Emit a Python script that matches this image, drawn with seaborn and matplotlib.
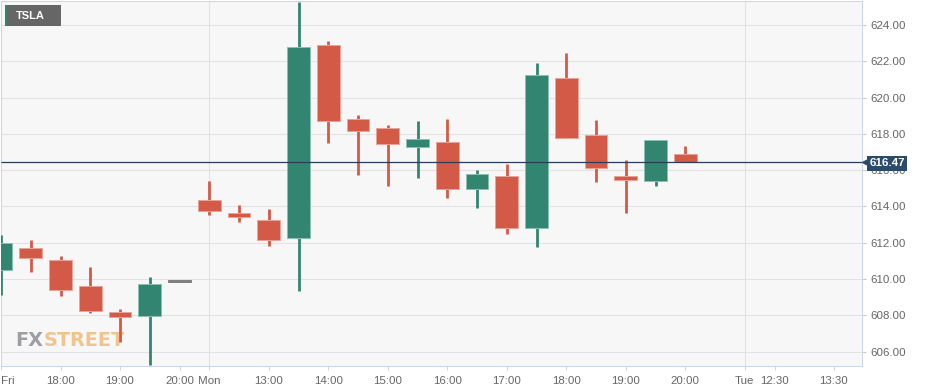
import numpy as np
import pandas as pd
import matplotlib
matplotlib.use("Agg")
import matplotlib.pyplot as plt
import seaborn as sns
from matplotlib.patches import Rectangle

# ---------------- data ----------------
axis_slots = ["Fri 17:00", "Fri 17:30", "Fri 18:00", "Fri 18:30", "Fri 19:00", "Fri 19:30",
              "Fri 20:00", "Mon 12:00", "Mon 12:30", "Mon 13:00", "Mon 13:30", "Mon 14:00",
              "Mon 14:30", "Mon 15:00", "Mon 15:30", "Mon 16:00", "Mon 16:30", "Mon 17:00",
              "Mon 17:30", "Mon 18:00", "Mon 18:30", "Mon 19:00", "Mon 19:30", "Mon 20:00",
              "Mon 20:30", "Tue 12:00", "Tue 12:30", "Tue 13:00", "Tue 13:30"]

candle_times = ["Fri 17:00", "Fri 17:30", "Fri 18:00", "Fri 18:30", "Fri 19:00", "Fri 19:30",
                "Fri 20:00", "Mon 12:00", "Mon 12:30", "Mon 13:00", "Mon 13:30", "Mon 14:00",
                "Mon 14:30", "Mon 15:00", "Mon 15:30", "Mon 16:00", "Mon 16:30", "Mon 17:00",
                "Mon 17:30", "Mon 18:00", "Mon 18:30", "Mon 19:00", "Mon 19:30", "Mon 20:00"]
opens = [610.52, 611.70, 611.03, 609.60, 608.17, 607.97, 609.86, 614.34, 613.66, 613.26, 612.25, 622.90,
         618.82, 618.33, 617.30, 617.54, 614.95, 615.66, 612.80, 621.06, 617.92, 615.66, 615.39, 616.91]
highs = [612.43, 612.14, 611.27, 610.65, 608.34, 610.10, 609.86, 615.39, 614.07, 613.84, 625.25, 623.10,
         619.02, 618.47, 618.69, 618.80, 615.99, 616.32, 621.89, 622.44, 618.75, 616.56, 617.65, 617.33]
lows = [609.12, 610.41, 609.09, 608.15, 606.52, 605.25, 609.86, 613.51, 613.13, 611.81, 609.33, 617.52,
        615.72, 615.11, 615.55, 614.45, 613.90, 612.48, 611.75, 617.77, 615.33, 613.62, 615.13, 616.47]
closes = [611.99, 611.18, 609.40, 608.24, 607.93, 609.71, 609.86, 613.77, 613.42, 612.15, 622.77, 618.69,
          618.16, 617.46, 617.70, 614.95, 615.79, 612.82, 621.23, 617.77, 616.12, 615.44, 617.65, 616.47]

tick_slots = ["Fri 17:00", "Fri 18:00", "Fri 19:00", "Fri 20:00", "Mon 12:00", "Mon 13:00", "Mon 14:00",
              "Mon 15:00", "Mon 16:00", "Mon 17:00", "Mon 18:00", "Mon 19:00", "Mon 20:00",
              "Tue 12:00", "Tue 12:30", "Tue 13:30"]
tick_labels = ["Fri", "18:00", "19:00", "20:00", "Mon", "13:00", "14:00", "15:00", "16:00",
               "17:00", "18:00", "19:00", "20:00", "Tue", "12:30", "13:30"]
day_starts = ["Mon 12:00", "Tue 12:00"]
price_ticks = [606, 608, 610, 612, 614, 616, 618, 620, 622, 624]
last_price = 616.47
symbol = "TSLA"
brand_parts = ["FX", "STREET"]

# ---------------- style ----------------
sns.set_theme(style="white")
plt.rcParams["font.family"] = ["Liberation Sans", "DejaVu Sans"]
plt.rcParams["lines.solid_capstyle"] = "butt"

GREEN = "#318571"
RED = "#d45a48"
GREY = "#7f7f7f"
palette = {"up": GREEN, "down": RED, "flat": GREY}
edge_palette = {"up": "#8cc0b2", "down": "#eba396", "flat": GREY}

slot_index = {s: i for i, s in enumerate(axis_slots)}
df = pd.DataFrame({"time": candle_times, "open": opens, "high": highs,
                   "low": lows, "close": closes})
df["pos"] = df["time"].map(slot_index)
df["dir"] = np.where(df["close"] > df["open"], "up",
                     np.where(df["close"] < df["open"], "down", "flat"))

fig = plt.figure(figsize=(9.27, 3.92), dpi=100)
fig.patch.set_facecolor("white")
ax = fig.add_axes([1 / 927, 26 / 392, 861 / 927, 365 / 392])
ax.set_facecolor("#f7f7f7")

# wicks (seaborn line per candle)
wick = pd.concat([
    df[["time", "pos", "dir"]].assign(price=df["low"]),
    df[["time", "pos", "dir"]].assign(price=df["high"]),
])
sns.lineplot(data=wick, x="pos", y="price", hue="dir", units="time", estimator=None,
             palette=palette, linewidth=2.0, legend=False, sort=False, ax=ax, zorder=3)

# bodies
body_bottom = np.minimum(df["open"], df["close"])
body_height = np.maximum(np.abs(df["close"] - df["open"]), 0.08)
ax.bar(df["pos"], body_height, bottom=body_bottom, width=0.77,
       color=[palette[d] for d in df["dir"]],
       edgecolor=[edge_palette[d] for d in df["dir"]],
       linewidth=0.7, zorder=4)

# axes limits / ticks
ax.set_xlim(0, 28.94)
ax.set_ylim(605.21, 625.32)
ax.set_xlabel("")
ax.set_ylabel("")

ax.set_yticks(price_ticks)
ax.set_yticklabels([f"{v:.2f}" for v in price_ticks])
ax.yaxis.tick_right()
ax.tick_params(axis="y", which="both", right=True, left=False, length=3, width=0.75,
               color="#c8c8c8", labelcolor="#666666", labelsize=8.25, pad=3)

ax.set_xticks([slot_index[s] for s in tick_slots])
ax.set_xticklabels(tick_labels)
ax.tick_params(axis="x", which="both", bottom=True, length=3, width=0.75,
               color="#ccd6eb", labelcolor="#666666", labelsize=8.25, pad=4)
ax.get_xticklabels()[0].set_horizontalalignment("left")

ax.grid(axis="y", color="#e2e2e2", linewidth=0.75)
ax.grid(axis="x", visible=False)
ax.set_axisbelow(True)
for s in day_starts:
    ax.axvline(slot_index[s], color="#e2e2e2", linewidth=0.75, zorder=0.5)

for sp in ax.spines.values():
    sp.set_visible(True)
    sp.set_color("#ccd6eb")
    sp.set_linewidth(0.75)

# last price line and tag
ax.axhline(last_price, color="#2c3e57", linewidth=0.9, zorder=6)
ytr = ax.get_yaxis_transform()
ax.text(1.0085, last_price - 0.1, f"{last_price:.2f}", transform=ytr, ha="left", va="center",
        color="white", fontsize=8.25, fontweight="bold", zorder=10, clip_on=False,
        bbox=dict(boxstyle="square,pad=0.18", fc="#2c4a6a", ec="none"))
ax.plot([1.0035], [last_price], transform=ytr, marker="<", markersize=5,
        color="#2c4a6a", clip_on=False, zorder=10)

# symbol label (top-left)
fig.patches.append(Rectangle((5 / 927, 1 - 26 / 392), 56 / 927, 21 / 392,
                             transform=fig.transFigure, facecolor="#666666",
                             edgecolor="none", zorder=10))
fig.patches.append(Rectangle((5 / 927, 1 - 26 / 392), 2 / 927, 21 / 392,
                             transform=fig.transFigure, facecolor=GREEN,
                             edgecolor="none", zorder=11))
fig.text(16 / 927, 1 - 15.8 / 392, symbol, color="white", fontsize=8,
         fontweight="bold", ha="left", va="center", zorder=12)

# watermark (bold, sized to the reference width)
fig.canvas.draw()
renderer = fig.canvas.get_renderer()
base_size = 20
t1 = ax.text(15 / 927, 1 - 346 / 392, brand_parts[0], transform=fig.transFigure,
             color="#9c9ea2", fontsize=base_size, fontweight="bold", family="DejaVu Sans",
             ha="left", va="baseline", zorder=1)
t2 = ax.text(0, 1 - 346 / 392, brand_parts[1], transform=fig.transFigure,
             color="#f0c48c", fontsize=base_size, fontweight="bold", family="DejaVu Sans",
             ha="left", va="baseline", zorder=1)
w_total = t1.get_window_extent(renderer).width + t2.get_window_extent(renderer).width
size = base_size * 109 / w_total
t1.set_fontsize(size)
t2.set_fontsize(size)
e1 = t1.get_window_extent(renderer)
t2.set_x((e1.x1 + 0.5) / 927)

fig.savefig("out.png", dpi=100, facecolor="white")
